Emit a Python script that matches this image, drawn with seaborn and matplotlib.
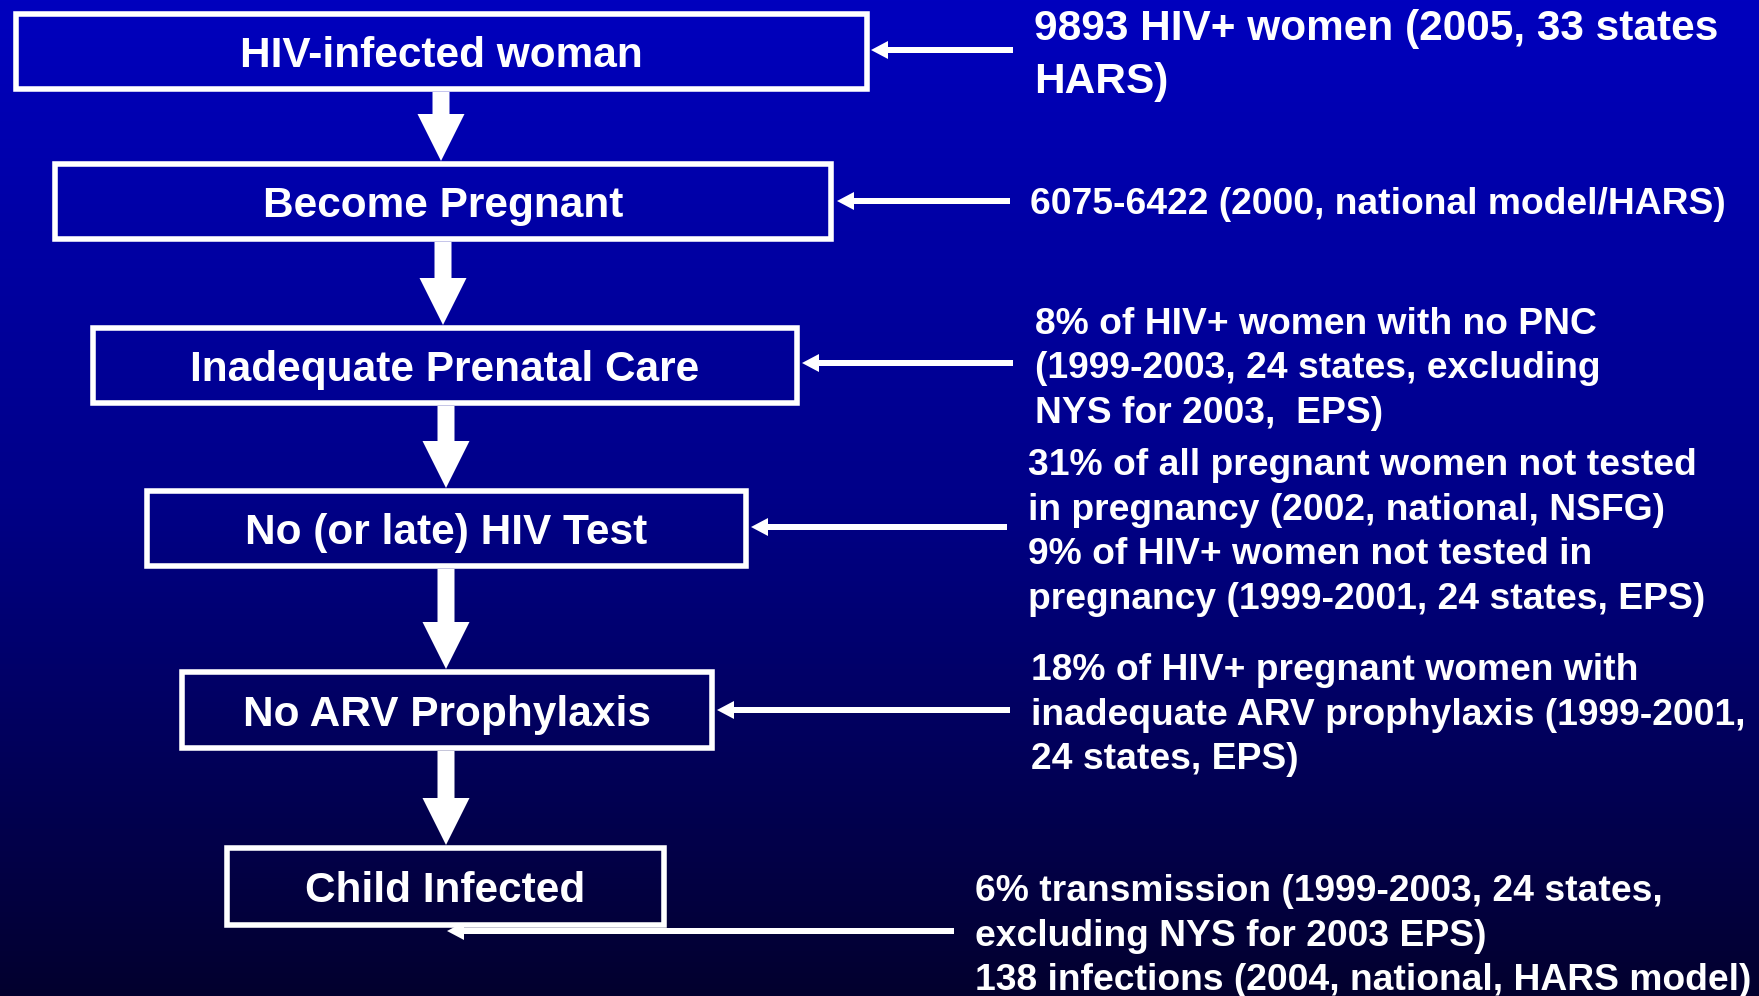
import numpy as np
import matplotlib
matplotlib.use("Agg")
import matplotlib.pyplot as plt
from matplotlib.patches import Rectangle, FancyArrow
import seaborn as sns

# ---------------- content ----------------
stages = ["HIV-infected woman", "Become Pregnant", "Inadequate Prenatal Care",
          "No (or late) HIV Test", "No ARV Prophylaxis", "Child Infected"]

note_women = ["9893 HIV+ women (2005, 33 states", "HARS)"]
note_pregnant = ["6075-6422 (2000, national model/HARS)"]
note_pnc = ["8% of HIV+ women with no PNC",
            "(1999-2003, 24 states, excluding",
            "NYS for 2003,  EPS)"]
note_test = ["31% of all pregnant women not tested",
             "in pregnancy (2002, national, NSFG)",
             "9% of HIV+ women not tested in",
             "pregnancy (1999-2001, 24 states, EPS)"]
note_arv = ["18% of HIV+ pregnant women with",
            "inadequate ARV prophylaxis (1999-2001,",
            "24 states, EPS)"]
note_child = ["6% transmission (1999-2003, 24 states,",
              "excluding NYS for 2003 EPS)",
              "138 infections (2004, national, HARS model)"]
notes = [note_women, note_pregnant, note_pnc, note_test, note_arv, note_child]

# ---------------- layout (pixels) ----------------
W, H = 1759, 996
box_left = [13, 52, 90, 144, 179, 224]
box_right = [870, 834, 800, 749, 715, 667]
box_top = [11, 161, 325, 488, 669, 845]
box_bottom = [92, 242, 406, 569, 751, 928]
down_x = [441, 443, 446, 446, 446]

side_tail = [1013, 1010, 1013, 1007, 1010, 954]
side_tip = [871, 837, 802, 751, 717, 447]
side_y = [50, 201, 363, 527, 710, 931]

note_x = [1034, 1030, 1035, 1028, 1031, 975]
note_base = [40, 214, 334, 475, 680, 901]
note_step = [53, 44, 44.3, 44.5, 44.5, 44.5]
note_size = [30.5, 26.8, 26.8, 26.8, 26.8, 26.8]

sns.set_theme(style="white")
plt.rcParams["font.family"] = ["Liberation Sans", "DejaVu Sans"]

fig = plt.figure(figsize=(W / 100, H / 100), dpi=100)
ax = fig.add_axes([0, 0, 1, 1])
ax.set_xlim(0, W)
ax.set_ylim(H, 0)
ax.axis("off")

# background gradient
t = np.linspace(0, 1, 400)
blue = np.interp(t, [0, 0.5, 1], [190, 136, 46]) / 255
red = np.interp(t, [0, 0.5, 1], [0, 0, 3]) / 255
grad = np.stack([red, np.zeros_like(t), blue], axis=1)[:, None, :]
ax.imshow(grad, extent=[0, W, H, 0], aspect="auto", zorder=0, interpolation="bilinear")

lw_pt = 4.0
half = lw_pt * 100 / 72 / 2

# boxes
for i, label in enumerate(stages):
    x0 = box_left[i] + half
    y0 = box_top[i] + half
    w = box_right[i] - box_left[i] - 2 * half
    h = box_bottom[i] - box_top[i] - 2 * half
    if i == len(stages) - 1:
        clip = Rectangle((x0, y0), w, h, transform=ax.transData)
        im = ax.imshow(grad, extent=[0, W, H, 0], aspect="auto", zorder=3,
                       interpolation="bilinear")
        im.set_clip_path(clip)
    ax.add_patch(Rectangle((x0, y0), w, h, fill=False, edgecolor="white",
                           linewidth=lw_pt, zorder=4))
    cx = (box_left[i] + box_right[i]) / 2
    cy = (box_top[i] + box_bottom[i]) / 2
    ax.text(cx, cy + 15.5, label, ha="center", va="baseline", color="white",
            fontsize=30.5, fontweight="bold", zorder=5)

# downward block arrows
for i, x in enumerate(down_x):
    y0 = box_bottom[i]
    y1 = box_top[i + 1]
    ax.add_patch(FancyArrow(x, y0, 0, y1 - y0, width=17, head_width=47,
                            head_length=47, length_includes_head=True,
                            color="white", linewidth=0, zorder=4))

# side arrows
for i in range(len(side_y)):
    ax.add_patch(FancyArrow(side_tail[i], side_y[i], side_tip[i] - side_tail[i], 0,
                            width=6, head_width=18, head_length=17,
                            length_includes_head=True, color="white",
                            linewidth=0, zorder=2))

# notes
for i, lines in enumerate(notes):
    for j, line in enumerate(lines):
        ax.text(note_x[i], note_base[i] + j * note_step[i], line, ha="left",
                va="baseline", color="white", fontsize=note_size[i],
                fontweight="bold", zorder=5)

fig.savefig("out.png", dpi=100, facecolor="#000080")
